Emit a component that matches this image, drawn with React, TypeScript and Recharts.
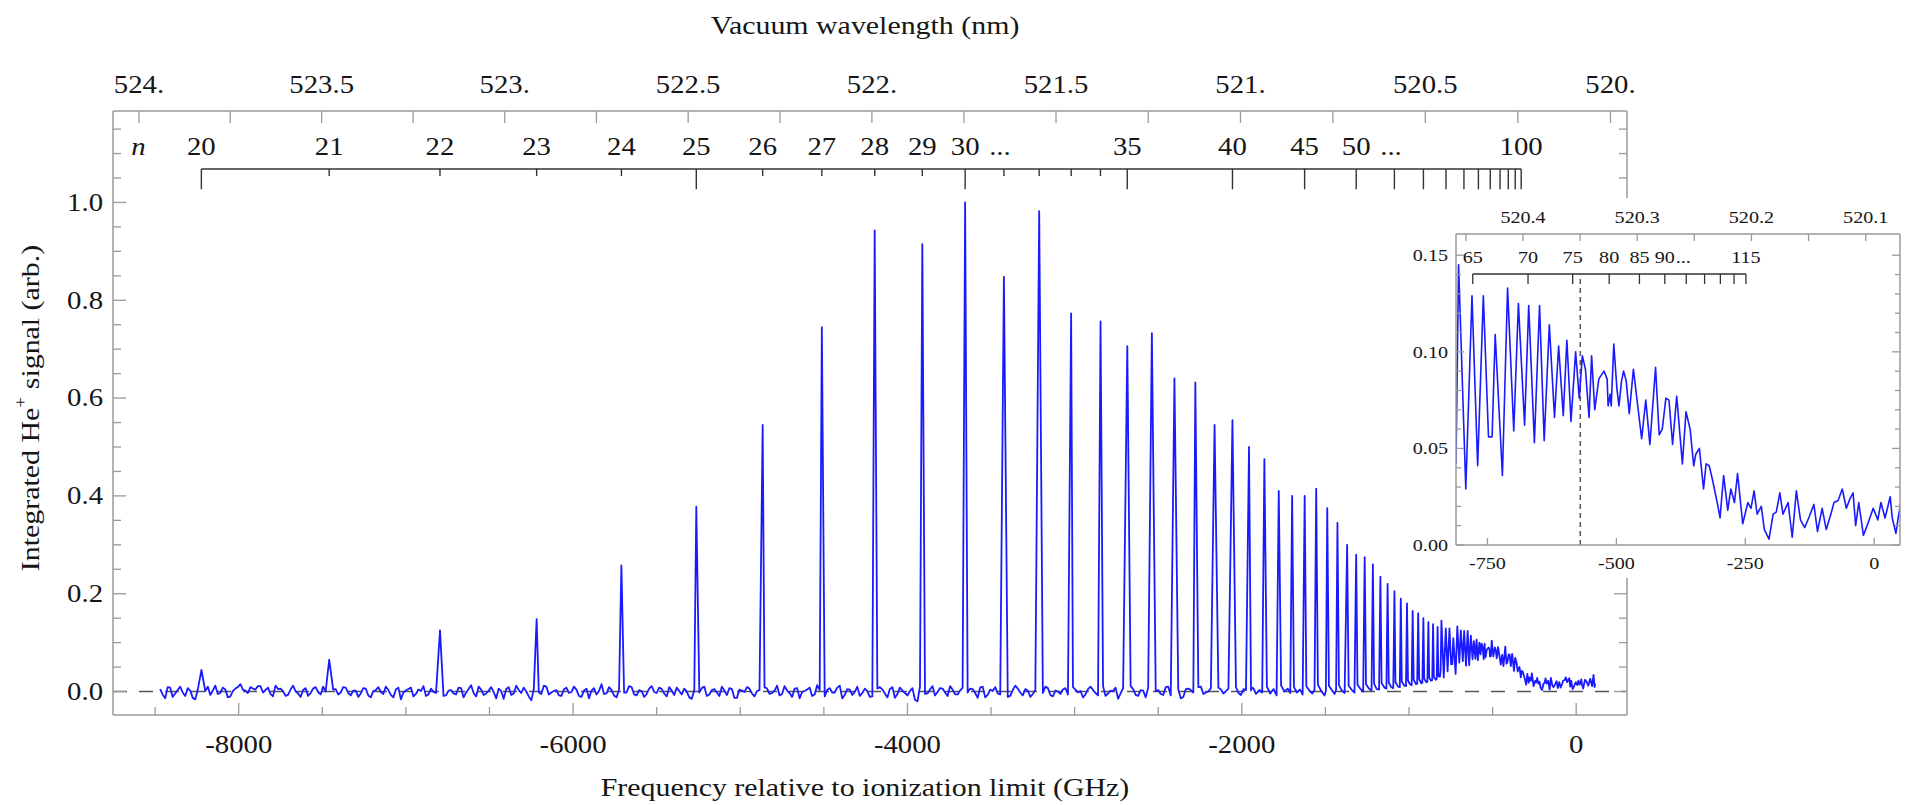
import React from 'react';
import { ComposedChart, Line, XAxis, YAxis, ReferenceLine, Scatter } from 'recharts';

const SERIF = '"Liberation Serif", "Times New Roman", serif';
const BLUE = '#1a1aff';
const FRAME = '#9a9a9a';
const INK = '#161616';
const LADDER = '#333333';
const STRETCH = 1.15;

// axis conversions: frequency is relative to the He 2 3S ionization limit (two-photon)
const LIMIT_GHZ = 1152842.7;
const TWO_C = 599584916; // GHz * nm
const RYDBERG_HE = 3289391; // GHz
const wavelengthToFreq = (nm: number) => TWO_C / nm - LIMIT_GHZ;
const nToFreq = (n: number) => -RYDBERG_HE / (n * n);

const MAIN_X: [number, number] = [-8752, 304];
const MAIN_Y: [number, number] = [-0.048, 1.187];
const INSET_X: [number, number] = [-811, 50];
const INSET_Y: [number, number] = [0, 0.161];

// ---- main spectrum data ----
// resolved Rydberg peaks n = 20 ... 63
const peakFreq = [
  -8223, -7459, -6796, -6218, -5711, -5263, -4866, -4512, -4196, -3911, -3655,
  -3423, -3212, -3021, -2845, -2685, -2538, -2403, -2278, -2163, -2056, -1957,
  -1865, -1779, -1699, -1624, -1555, -1489, -1428, -1370, -1316, -1265, -1216,
  -1171, -1128, -1087, -1049, -1012, -978, -945, -914, -884, -856, -829,
];
const peakSignal = [
  0.044, 0.065, 0.125, 0.148, 0.258, 0.378, 0.545, 0.745, 0.943, 0.915, 1.0,
  0.848, 0.982, 0.773, 0.757, 0.706, 0.733, 0.64, 0.632, 0.545, 0.555, 0.5,
  0.475, 0.41, 0.4, 0.4, 0.415, 0.375, 0.345, 0.3, 0.28, 0.275, 0.26,
  0.235, 0.22, 0.205, 0.19, 0.18, 0.165, 0.16, 0.15, 0.142, 0.138, 0.132,
];

// baseline noise (x 0.001), read every 30 GHz from -8470 GHz ...
const BASE_START = -8470;
const BASE_STEP = 30;
const baseMilli = [
  5, -14, 8, -4, 10, -9, 2, -16, 6, 1, -7, 12, -3, 4, -10, 6, 15, 2, 9, 4,
  11, 3, -5, 12, 6, -9, 4, 1, -11, 7, -3, 9, -6, 0, -13, 5, -2, 8, -8, 2,
  -4, 6, -12, 3, -1, 10, -7, 4, -16, 2, 8, -5, 1, -9, 6, -3, 11, -8, 3, -6,
  7, -2, 13, -10, 4, -4, 9, -14, 1, 5, -7, 12, -3, 0, -18, 6, -5, 10, -2, 3,
  -9, 8, -1, 4, -11, 6, 2, -6, 15, -4, 3, -12, 7, -2, 9, -8, 1, -5, 11, -3,
  5, -10, 2, 8, -6, 0, -15, 4, 7, -9, 3, -2, 10, -7, 5, -13, 2, 9, -4, 1,
  -8, 6, -3, 12, -5, 2, -11, 7, -1, 4, -9, 13, -6, 3, -2, 8, -14, 5, -7, 10,
  -3, 1, -10, 6, 4, -12, 9, -5, 2, -8, 7, -20, 3, -4, 11, -1, 6, -9, 4, -6,
  8, -2, 5, -13, 10, -7, 1, -4, 9, -11, 3, 6, -8, 2, -5, 12, -3, 7, -10, 0,
  4, -6, 9, -2, -12, 5, 3, -8, 11, -4, 1, -15, 7, -1, 5, -9, 2, 8, -6, 3,
  -7, 10, -3, 4, -11, 6, -2, 9, -5, 0, -22, 8, -4, 6, 12, -3, 5, -6, 6,
];
// ... and in between, from -8455 GHz
const MID_START = -8455;
const midMilli = [
  -6, 9, -11, 3, -2, 7, -13, 4, -8, 10, 2, -5, 8, -12, 1, 9, 4, -3, 6, 11,
  -2, 8, -10, 5, 1, -7, 12, -4, 3, -9, 6, -1, 10, -14, 4, -6, 9, -3, 2, -11,
  7, -8, 1, 9, -5, 3, -12, 8, -2, 5, -10, 4, 11, -6, -1, 7, -9, 2, -4, 8,
  -12, 5, -3, 10, -7, 2, -1, 6, -15, 9, -4, 3, 8, -10, 5, -2, 12, -6, 1, -8,
  4, -3, 10, -9, 2, -14, 7, 1, -5, 9, -8, 4, -2, 11, -6, 3, -11, 6, -1, 8,
  -4, 9, -7, 1, 6, -12, 3, -2, 10, -6, 5, -9, 2, 7, -13, 4, -1, 6, -10, 3,
  9, -5, 2, -8, 11, -3, 6, -14, 1, 8, -6, 3, -10, 7, -2, 12, -7, 4, -1, -9,
  6, -11, 2, 9, -4, 5, -13, 8, -3, 1, -17, 10, -5, 4, -8, 7, -2, 11, -6, 2,
  -10, 6, -3, 8, -12, 4, 9, -6, 1, -9, 12, -2, 5, -11, 3, -4, 10, -7, 2, -5,
  7, -13, 4, 1, -6, 10, -3, 5, -9, 2, 8, -4, -1, 11, -7, 3, -12, 6, 1, -5,
  9, -8, 2, -14, 5, 3, -6, 10, -2, 7, -10, 4, 1, -4, 9, -7, 3, 2,
];

// between the closely spaced peaks (x 0.001)
const denseFreq = [
  -1940, -1915, -1895, -1878, -1850, -1830, -1810, -1792, -1765, -1745, -1725, -1710,
  -1688, -1670, -1652, -1636, -1614, -1596, -1578, -1565, -1545, -1525, -1505, -1497,
  -1479, -1462, -1445, -1436, -1419, -1402, -1385, -1361, -1344, -1326, -1308, -1290,
  -1274, -1257, -1240, -1224, -1209, -1193, -1179, -1164, -1146, -1135, -1121, -1106,
  -1094, -1081, -1065, -1055, -1043, -1027, -1018, -1006, -992, -984, -972, -958,
  -951, -939, -926, -920, -909, -896, -890, -879, -868, -861, -851, -840, -834, -824, -815,
];
const denseMilli = [
  8, -5, 3, -2, 10, -4, 5, -8, 12, 0, 6, -3,
  9, -2, 4, -6, 11, 2, -4, 3, 14, 1, -8, 2,
  12, 3, -5, 4, 13, 2, -3, 12, 4, -2, 14, 5,
  0, 15, 6, 2, 16, 5, 4, 17, 8, 6, 18, 9,
  7, 19, 10, 9, 20, 12, 11, 22, 14, 13, 24, 15,
  16, 25, 17, 18, 26, 19, 20, 28, 22, 23, 30, 24, 26, 32, 30,
];

// near-threshold region (shown enlarged in the inset)
const insetFreq = [
  -811, -806, -792, -780, -769, -758, -748, -741, -735, -721, -711, -699, -690, -678, -670,
  -659, -649, -640, -630, -620, -612, -603, -596, -588, -579, -572, -566, -560, -553, -548,
  -542, -534, -524, -518, -516, -512, -510, -505, -499, -495, -490, -486, -481, -475, -467,
  -459, -451, -443, -435, -424, -417, -411, -404, -398, -391, -383, -372, -365, -357, -350,
  -346, -339, -331, -326, -320, -313, -303, -299, -292, -284, -278, -271, -265, -255, -245,
  -239, -233, -227, -219, -213, -204, -196, -190, -183, -177, -167, -159, -151, -143, -135,
  -127, -117, -110, -101, -93, -84, -78, -70, -62, -54, -47, -41, -36, -30, -21,
  -11, -2, 7, 13, 21, 31, 35, 42, 47, 53,
];
const insetSignal = [
  0.042, 0.145, 0.029, 0.129, 0.041, 0.129, 0.056, 0.056, 0.109, 0.036, 0.133, 0.059, 0.125, 0.062, 0.124,
  0.053, 0.124, 0.054, 0.114, 0.066, 0.103, 0.067, 0.106, 0.064, 0.1, 0.076, 0.098, 0.091, 0.066, 0.098,
  0.07, 0.086, 0.09, 0.086, 0.072, 0.078, 0.072, 0.104, 0.081, 0.072, 0.085, 0.09, 0.085, 0.068, 0.091,
  0.073, 0.055, 0.075, 0.052, 0.092, 0.057, 0.06, 0.076, 0.075, 0.052, 0.077, 0.042, 0.069, 0.06, 0.041,
  0.047, 0.05, 0.029, 0.042, 0.041, 0.033, 0.02, 0.014, 0.036, 0.018, 0.029, 0.022, 0.037, 0.011, 0.022,
  0.019, 0.028, 0.016, 0.02, 0.008, 0.003, 0.016, 0.017, 0.027, 0.016, 0.022, 0.004, 0.028, 0.013, 0.009,
  0.014, 0.021, 0.007, 0.019, 0.008, 0.016, 0.022, 0.023, 0.029, 0.019, 0.024, 0.027, 0.01, 0.022, 0.005,
  0.012, 0.019, 0.013, 0.022, 0.014, 0.025, 0.014, 0.006, 0.015, 0.024,
];

// end of scan above the limit
const tailFreq = [62, 72, 84, 95, 104, 110, 114];
const tailSignal = [0.02, 0.012, 0.026, 0.011, 0.034, 0.009, 0.016];

// ---- axes ----
const bottomTicks = [-8500, -8000, -7500, -7000, -6500, -6000, -5500, -5000, -4500, -4000, -3500, -3000, -2500, -2000, -1500, -1000, -500, 0];
const bottomLabels = ['', '-8000', '', '', '', '-6000', '', '', '', '-4000', '', '', '', '-2000', '', '', '', '0'];

const topWavelengths = [524, 523.75, 523.5, 523.25, 523, 522.75, 522.5, 522.25, 522, 521.75, 521.5, 521.25, 521, 520.75, 520.5, 520.25, 520];
const topLabels = ['524.', '', '523.5', '', '523.', '', '522.5', '', '522.', '', '521.5', '', '521.', '', '520.5', '', '520.'];

const leftTicks = [0, 0.05, 0.1, 0.15, 0.2, 0.25, 0.3, 0.35, 0.4, 0.45, 0.5, 0.55, 0.6, 0.65, 0.7, 0.75, 0.8, 0.85, 0.9, 0.95, 1.0, 1.05, 1.1, 1.15];
const leftLabels = ['0.0', '', '', '', '0.2', '', '', '', '0.4', '', '', '', '0.6', '', '', '', '0.8', '', '', '', '1.0', '', '', ''];

const insetBottomTicks = [-750, -500, -250, 0];
const insetBottomLabels = ['-750', '-500', '-250', '0'];
const insetWavelengths = [520.45, 520.4, 520.35, 520.3, 520.25, 520.2, 520.15, 520.1];
const insetTopLabels = ['', '520.4', '', '520.3', '', '520.2', '', '520.1'];
const insetLeftTicks = [0, 0.01, 0.02, 0.03, 0.04, 0.05, 0.06, 0.07, 0.08, 0.09, 0.1, 0.11, 0.12, 0.13, 0.14, 0.15];
const insetLeftLabels = ['0.00', '', '', '', '', '0.05', '', '', '', '', '0.10', '', '', '', '', '0.15'];

// ---- principal quantum number ladders ----
const mainLadderN = [20, 21, 22, 23, 24, 25, 26, 27, 28, 29, 30, 31, 32, 33, 34, 35, 40, 45, 50, 55, 60, 65, 70, 75, 80, 85, 90, 95, 100];
const mainLadderLong = [1, 0, 0, 0, 0, 1, 0, 0, 0, 0, 1, 0, 0, 0, 0, 1, 1, 1, 1, 1, 1, 1, 1, 1, 1, 1, 1, 1, 1];
const mainLabelN = [20, 21, 22, 23, 24, 25, 26, 27, 28, 29, 30, 35, 40, 45, 50, 100];
const mainLabelText = ['20', '21', '22', '23', '24', '25', '26', '27', '28', '29', '30', '35', '40', '45', '50', '100'];
const mainLabelDots = [0, 0, 0, 0, 0, 0, 0, 0, 0, 0, 1, 0, 0, 0, 1, 0];
const MAIN_LADDER_V = 1.0685;
const MAIN_TICK_LONG_V = 1.027;
const MAIN_TICK_SHORT_V = 1.054;
const MAIN_LABEL_V = 1.1135;
const N_SYMBOL_FREQ = -8600;

const insetLadderN = [65, 70, 75, 80, 85, 90, 95, 100, 105, 110, 115];
const insetLabelN = [65, 70, 75, 80, 85, 90, 115];
const insetLabelText = ['65', '70', '75', '80', '85', '90', '115'];
const insetLabelDots = [0, 0, 0, 0, 0, 1, 0];
const INSET_LADDER_V = 0.1403;
const INSET_TICK_V = 0.1351;
const INSET_LABEL_V = 0.1493;
const INSET_MARK_FREQ = -570;

// ---- build series ----
const awayFromPeaks = (p: { f: number }) => peakFreq.every((pf) => Math.abs(pf - p.f) > 10);
const baseline = [
  ...baseMilli.map((m, i) => ({ f: BASE_START + i * BASE_STEP, v: m / 1000 })),
  ...midMilli.map((m, i) => ({ f: MID_START + i * BASE_STEP, v: m / 1000 })),
].filter(awayFromPeaks);

const mainSeries = [
  ...baseline,
  ...peakFreq.map((f, i) => ({ f, v: peakSignal[i] })),
  ...denseFreq.map((f, i) => ({ f, v: denseMilli[i] / 1000 })),
  ...insetFreq.map((f, i) => ({ f, v: insetSignal[i] })),
  ...tailFreq.map((f, i) => ({ f, v: tailSignal[i] })),
].sort((a, b) => a.f - b.f);

const insetSeries = insetFreq.map((f, i) => ({ f, v: insetSignal[i] }));

const topTickFreqs = topWavelengths.map(wavelengthToFreq);
const insetTopFreqs = insetWavelengths.map(wavelengthToFreq);

const mainLabels = [
  { f: N_SYMBOL_FREQ, v: MAIN_LABEL_V, text: 'n', italic: true, dots: 0 },
  ...mainLabelN.map((n, i) => ({ f: nToFreq(n), v: MAIN_LABEL_V, text: mainLabelText[i], italic: false, dots: mainLabelDots[i] })),
];
const insetLabels = insetLabelN.map((n, i) => ({ f: nToFreq(n), v: INSET_LABEL_V, text: insetLabelText[i], italic: false, dots: insetLabelDots[i] }));

// ---- drawing helpers ----
function SText({ x, y, size, anchor = 'middle', italic = false, children }: any) {
  return (
    <text
      transform={`translate(${x},${y}) scale(${STRETCH},1)`}
      textAnchor={anchor}
      dominantBaseline="central"
      fontFamily={SERIF}
      fontSize={size}
      fontStyle={italic ? 'italic' : 'normal'}
      fill={INK}
    >
      {children}
    </text>
  );
}

type Side = 'bottom' | 'top' | 'left' | 'right';

function makeTick(side: Side, margin: number, values: number[], labels: string[], longLen: number, shortLen: number, size: number, showLabels = true) {
  return (props: any) => {
    const { x, y, payload } = props;
    const i = values.findIndex((v) => Math.abs(v - payload.value) < 1e-6);
    const label = i >= 0 ? labels[i] : '';
    const len = label ? longLen : shortLen;
    let x1 = x, x2 = x, y1 = y, y2 = y;
    let anchor = 'middle';
    if (side === 'bottom') { y1 = y - margin; y2 = y1 - len; }
    else if (side === 'top') { y1 = y + margin; y2 = y1 + len; }
    else if (side === 'left') { x1 = x + margin; x2 = x1 + len; anchor = 'end'; }
    else { x1 = x - margin; x2 = x1 - len; }
    return (
      <g>
        <line x1={x1} y1={y1} x2={x2} y2={y2} stroke={FRAME} strokeWidth={1.3} />
        {showLabels && label ? <SText x={x} y={y} size={size} anchor={anchor}>{label}</SText> : null}
      </g>
    );
  };
}

function labelShape(size: number, dotsGap: number) {
  return (p: any) => {
    const { cx, cy, payload } = p;
    return (
      <g>
        <SText x={cx} y={cy} size={size} italic={payload.italic}>{payload.text}</SText>
        {payload.dots ? <SText x={cx + dotsGap} y={cy} size={size} anchor="start">...</SText> : null}
      </g>
    );
  };
}

const frameLine = { stroke: FRAME, strokeWidth: 1.5 };

function MainChart() {
  return (
    <ComposedChart width={1905} height={805} margin={{ top: 0, right: 0, bottom: 0, left: 0 }}>
      <XAxis xAxisId="bottom" type="number" dataKey="f" domain={MAIN_X} allowDataOverflow ticks={bottomTicks} interval={0}
        height={90} tickSize={0} tickMargin={30} tickLine={false} axisLine={frameLine}
        tick={makeTick('bottom', 30, bottomTicks, bottomLabels, 12, 8, 25)} />
      <XAxis xAxisId="top" orientation="top" type="number" dataKey="f" domain={MAIN_X} allowDataOverflow ticks={topTickFreqs} interval={0}
        height={111} tickSize={0} tickMargin={26} tickLine={false} axisLine={frameLine}
        tick={makeTick('top', 26, topTickFreqs, topLabels, 12, 12, 25)} />
      <YAxis yAxisId="left" type="number" dataKey="v" domain={MAIN_Y} allowDataOverflow ticks={leftTicks} interval={0}
        width={113} tickSize={0} tickMargin={10} tickLine={false} axisLine={frameLine}
        tick={makeTick('left', 10, leftTicks, leftLabels, 13, 8, 25)} />
      <YAxis yAxisId="right" orientation="right" type="number" domain={MAIN_Y} allowDataOverflow ticks={leftTicks} interval={0}
        width={278} tickSize={0} tickMargin={2} tickLine={false} axisLine={frameLine}
        tick={makeTick('right', 2, leftTicks, leftLabels, 13, 8, 25, false)} />

      <ReferenceLine xAxisId="bottom" yAxisId="left" y={0} stroke="#555" strokeWidth={1.5} strokeDasharray="14 12" />

      <ReferenceLine xAxisId="bottom" yAxisId="left" stroke={LADDER} strokeWidth={1.6}
        segment={[{ x: nToFreq(20), y: MAIN_LADDER_V }, { x: nToFreq(100), y: MAIN_LADDER_V }]} />
      {mainLadderN.map((n, i) => (
        <ReferenceLine key={`ml${n}`} xAxisId="bottom" yAxisId="left" stroke={LADDER} strokeWidth={1.4}
          segment={[{ x: nToFreq(n), y: MAIN_LADDER_V }, { x: nToFreq(n), y: mainLadderLong[i] ? MAIN_TICK_LONG_V : MAIN_TICK_SHORT_V }]} />
      ))}
      <Scatter xAxisId="bottom" yAxisId="left" data={mainLabels} dataKey="v" isAnimationActive={false} shape={labelShape(25, 24)} />

      <Line xAxisId="bottom" yAxisId="left" data={mainSeries} dataKey="v" type="linear" dot={false}
        stroke={BLUE} strokeWidth={1.8} strokeLinejoin="round" isAnimationActive={false} />
    </ComposedChart>
  );
}

function InsetChart() {
  return (
    <ComposedChart width={505} height={380} margin={{ top: 0, right: 0, bottom: 0, left: 0 }}>
      <XAxis xAxisId="bottom" type="number" dataKey="f" domain={INSET_X} allowDataOverflow ticks={insetBottomTicks} interval={0}
        height={33} tickSize={0} tickMargin={18} tickLine={false} axisLine={frameLine}
        tick={makeTick('bottom', 18, insetBottomTicks, insetBottomLabels, 7, 7, 17.5)} />
      <XAxis xAxisId="top" orientation="top" type="number" dataKey="f" domain={INSET_X} allowDataOverflow ticks={insetTopFreqs} interval={0}
        height={36} tickSize={0} tickMargin={17} tickLine={false} axisLine={frameLine}
        tick={makeTick('top', 17, insetTopFreqs, insetTopLabels, 7, 7, 17.5)} />
      <YAxis yAxisId="left" type="number" dataKey="v" domain={INSET_Y} allowDataOverflow ticks={insetLeftTicks} interval={0}
        width={56} tickSize={0} tickMargin={8} tickLine={false} axisLine={frameLine}
        tick={makeTick('left', 8, insetLeftTicks, insetLeftLabels, 8, 5, 17.5)} />
      <YAxis yAxisId="right" orientation="right" type="number" domain={INSET_Y} allowDataOverflow ticks={insetLeftTicks} interval={0}
        width={5} tickSize={0} tickMargin={2} tickLine={false} axisLine={frameLine}
        tick={makeTick('right', 2, insetLeftTicks, insetLeftLabels, 8, 5, 17.5, false)} />

      <ReferenceLine xAxisId="bottom" yAxisId="left" stroke="#555" strokeWidth={1.5} strokeDasharray="5 4"
        segment={[{ x: INSET_MARK_FREQ, y: 0 }, { x: INSET_MARK_FREQ, y: INSET_LADDER_V }]} />
      <ReferenceLine xAxisId="bottom" yAxisId="left" stroke={LADDER} strokeWidth={1.5}
        segment={[{ x: nToFreq(65), y: INSET_LADDER_V }, { x: nToFreq(115), y: INSET_LADDER_V }]} />
      {insetLadderN.map((n) => (
        <ReferenceLine key={`il${n}`} xAxisId="bottom" yAxisId="left" stroke={LADDER} strokeWidth={1.3}
          segment={[{ x: nToFreq(n), y: INSET_LADDER_V }, { x: nToFreq(n), y: INSET_TICK_V }]} />
      ))}
      <Scatter xAxisId="bottom" yAxisId="left" data={insetLabels} dataKey="v" isAnimationActive={false} shape={labelShape(17.5, 11)} />

      <Line xAxisId="bottom" yAxisId="left" data={insetSeries} dataKey="v" type="linear" dot={false}
        stroke={BLUE} strokeWidth={1.6} strokeLinejoin="round" isAnimationActive={false} />
    </ComposedChart>
  );
}

export default function App() {
  return (
    <div style={{ position: 'absolute', left: 0, top: 0, width: 1905, height: 805, background: '#fff', overflow: 'hidden' }}>
      <div style={{ position: 'absolute', left: 0, top: 0 }}>
        <MainChart />
      </div>
      <div style={{ position: 'absolute', left: 1400, top: 198, width: 505, height: 380, background: '#fff' }}>
        <InsetChart />
      </div>
      <svg width={1905} height={805} style={{ position: 'absolute', left: 0, top: 0, pointerEvents: 'none' }}>
        <SText x={865} y={25} size={26}>Vacuum wavelength (nm)</SText>
        <SText x={865} y={787} size={26}>Frequency relative to ionization limit (GHz)</SText>
        <text transform={`translate(30,408) rotate(-90) scale(${STRETCH},1)`} textAnchor="middle" dominantBaseline="central"
          fontFamily={SERIF} fontSize={26} fill={INK}>
          Integrated He<tspan dy={-10} fontSize={17}>+</tspan><tspan dy={10}> signal (arb.)</tspan>
        </text>
      </svg>
    </div>
  );
}
